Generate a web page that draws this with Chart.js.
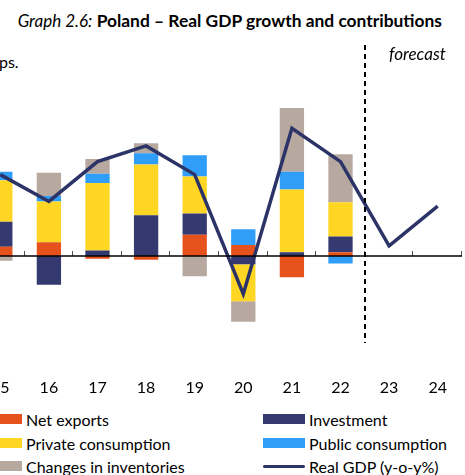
<!DOCTYPE html>
<html>
<head>
<meta charset="utf-8">
<script src="https://cdn.jsdelivr.net/npm/chart.js@4"></script>
<style>
  body { margin: 0; width: 465px; height: 475px; overflow: hidden; background: #fff; position: relative; font-family: Lato, sans-serif; color: #000; }
  #title { position: absolute; right: 23px; top: 10px; font-size: 17px; line-height: 22px; white-space: nowrap; }
  #title i { font-weight: normal; }
  #title b { font-size: 17.4px; }
  #unit { position: absolute; left: -10px; top: 52px; font-size: 16px; line-height: 20px; }
  #wrap { position: absolute; left: -24px; top: 0; width: 486px; height: 400px; }
  .lg { position: absolute; height: 20px; display: flex; align-items: center; font-size: 16px; white-space: nowrap; }
  .sw { display: inline-block; width: 42px; height: 10px; margin-right: 4px; }
  .ln { display: inline-block; width: 42px; height: 3px; border-radius: 2px; margin-right: 4px; }
</style>
</head>
<body>
<div id="title"><i>Graph 2.6:</i> <b>Poland – Real GDP growth and contributions</b></div>
<div id="unit">pps.</div>
<div id="wrap"><canvas id="myChart" width="486" height="400"></canvas></div>
<div id="legend"></div>
<script>
// data (pps. contributions, % for GDP)
const years = ['15', '16', '17', '18', '19', '20', '21', '22', '23', '24'];
const netExports = [0.5, 0.75, -0.15, -0.2, 1.15, 0.6, -1.15, 0.2, null, null];
const investment = [1.35, -1.55, 0.3, 2.2, 1.15, -0.45, 0.2, 0.85, null, null];
const privateCons = [2.25, 2.2, 3.65, 2.75, 2.0, -2.0, 3.4, 1.85, null, null];
const publicCons = [0.45, 0.3, 0.5, 0.6, 1.15, 0.85, 0.95, -0.4, null, null];
const inventories = [-0.25, 1.25, 0.8, 0.55, -1.1, -1.1, 3.45, 2.6, null, null];
const realGdp = [4.4, 2.95, 5.1, 5.95, 4.4, -2.05, 6.9, 5.1, 0.55, 2.7];

const forecastStart = 8; // first forecast year index (23)

const barSeries = [
    { label: 'Net exports', data: netExports, color: '#E6521B' },
    { label: 'Investment', data: investment, color: '#343A70' },
    { label: 'Private consumption', data: privateCons, color: '#FFD624' },
    { label: 'Public consumption', data: publicCons, color: '#309DF8' },
    { label: 'Changes in inventories', data: inventories, color: '#B7A8A0' }
];
const gdpColor = '#2C3366';

// zero axis line with small ticks between categories, plus forecast divider
const decorations = {
    id: 'decorations',
    afterDatasetsDraw(chart) {
        const { ctx, chartArea, scales: { x, y } } = chart;
        const y0 = y.getPixelForValue(0);
        const step = x.getPixelForValue(1) - x.getPixelForValue(0);
        ctx.save();
        ctx.strokeStyle = '#555';
        ctx.lineWidth = 1;
        for (let i = 0; i < years.length; i++) {
            const tx = Math.round(x.getPixelForValue(i) + step / 2) - 0.5;
            ctx.beginPath();
            ctx.moveTo(tx, y0);
            ctx.lineTo(tx, y0 - 5);
            ctx.stroke();
        }
        ctx.strokeStyle = '#000';
        ctx.lineWidth = 1.5;
        ctx.beginPath();
        ctx.moveTo(chartArea.left, y0);
        ctx.lineTo(chartArea.right, y0);
        ctx.stroke();

        const dx = Math.round((x.getPixelForValue(forecastStart - 1) + x.getPixelForValue(forecastStart)) / 2);
        ctx.strokeStyle = '#000';
        ctx.lineWidth = 2;
        ctx.setLineDash([5, 4]);
        ctx.beginPath();
        ctx.moveTo(dx, y.getPixelForValue(11.4));
        ctx.lineTo(dx, y.getPixelForValue(-4.7));
        ctx.stroke();
        ctx.setLineDash([]);

        ctx.fillStyle = '#000';
        ctx.font = 'italic 17px Lato';
        ctx.textBaseline = 'middle';
        ctx.textAlign = 'left';
        ctx.fillText('forecast', dx + 24, chartArea.top + 2.5);
        ctx.restore();
    }
};

const datasets = barSeries.map(s => ({
    type: 'bar',
    label: s.label,
    data: s.data,
    backgroundColor: s.color,
    borderWidth: 0,
    stack: 'contrib',
    order: 1,
    barPercentage: 0.5,
    categoryPercentage: 1
}));
datasets.push({
    type: 'line',
    label: 'Real GDP (y-o-y%)',
    data: realGdp,
    borderColor: gdpColor,
    backgroundColor: gdpColor,
    borderWidth: 3.5,
    borderJoinStyle: 'miter',
    pointRadius: 0,
    tension: 0,
    stack: 'gdp',
    order: 0
});

const config = {
    type: 'bar',
    data: { labels: years, datasets: datasets },
    options: {
        responsive: false,
        animation: false,
        devicePixelRatio: 1,
        layout: { padding: { top: 52.5, left: 0, right: 0, bottom: 0 } },
        plugins: { legend: { display: false }, tooltip: { enabled: false } },
        scales: {
            x: {
                stacked: true,
                offset: true,
                grid: { display: false, drawTicks: true, tickLength: 30 },
                border: { display: false },
                ticks: { color: '#000', font: { family: 'Lato', size: 16 }, padding: 0, maxRotation: 0 },
                afterFit: s => { s.height = 51.5; }
            },
            y: {
                display: false,
                stacked: true,
                min: -5,
                max: 11
            }
        }
    },
    plugins: [decorations]
};

// eslint-disable-next-line
const myChart = new Chart(document.getElementById('myChart'), config);

// two-column legend
const legendItems = [
    { label: 'Net exports', color: '#E6521B', left: -20, top: 409 },
    { label: 'Investment', color: '#343A70', left: 263, top: 409 },
    { label: 'Private consumption', color: '#FFD624', left: -20, top: 433 },
    { label: 'Public consumption', color: '#309DF8', left: 263, top: 433 },
    { label: 'Changes in inventories', color: '#B7A8A0', left: -20, top: 456 },
    { label: 'Real GDP (y-o-y%)', color: gdpColor, left: 263, top: 456, line: true }
];
const legend = document.getElementById('legend');
legendItems.forEach(it => {
    const d = document.createElement('div');
    d.className = 'lg';
    d.style.left = it.left + 'px';
    d.style.top = it.top + 'px';
    const sw = document.createElement('span');
    sw.className = it.line ? 'ln' : 'sw';
    sw.style.background = it.color;
    d.appendChild(sw);
    d.appendChild(document.createTextNode(it.label));
    legend.appendChild(d);
});
</script>
</body>
</html>
